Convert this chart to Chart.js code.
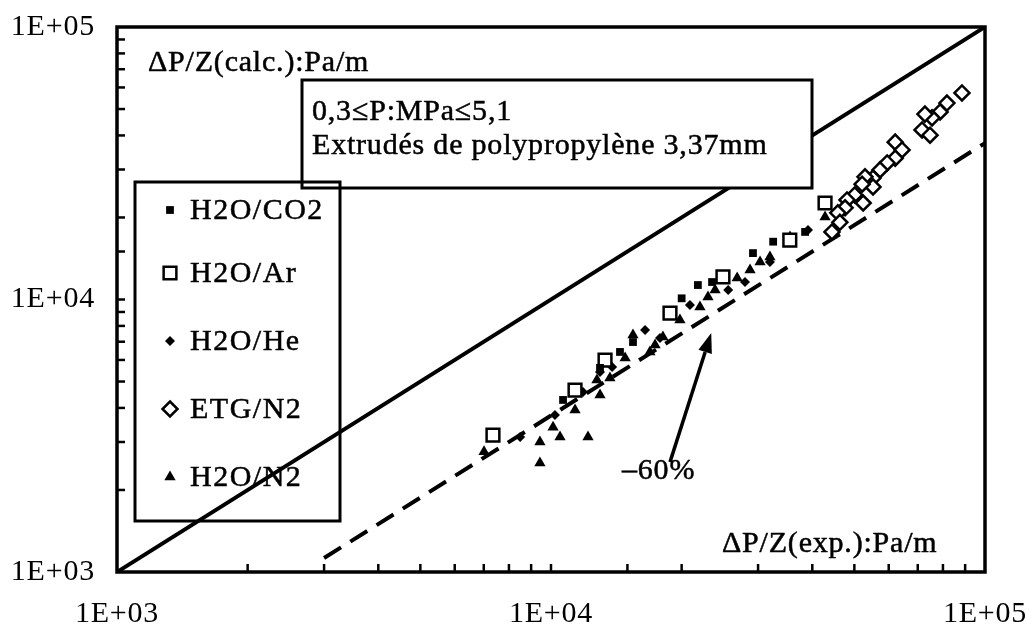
<!DOCTYPE html>
<html><head><meta charset="utf-8">
<script src="https://cdn.jsdelivr.net/npm/chart.js@4.4.1/dist/chart.umd.min.js"></script>
<style>html,body{margin:0;padding:0;background:#fff;}canvas{display:block;}</style>
</head><body><canvas id="c" width="1031" height="630"></canvas>
<script>
// ---- tick labels ----
const tickValues = [1e3, 1e4, 1e5];
const tickLabels = ['1E+03', '1E+04', '1E+05'];

// ---- series names ----
const seriesNames = ['H2O/CO2', 'H2O/Ar', 'H2O/He', 'ETG/N2', 'H2O/N2'];

// ---- series values [ΔP/Z exp, ΔP/Z calc] in Pa/m ----
const h2oCo2 = [[10660,4280],[12970,5610],[14420,6420],[15450,6980],[20000,10100],[21800,11300],[23500,11590],[29200,14800],[32500,16300],[38500,17700]];
const h2oAr = [[7350,3180],[11360,4650],[13320,5990],[18800,8920],[24900,12100],[35500,16500],[42800,22600]];
const h2oHe = [[8490,3130],[10210,3770],[11850,4580],[12970,5420],[13830,5650],[16470,7730],[17830,7220],[20900,9550],[25600,10840],[27990,11590],[31950,13740],[39100,17990]];
const etgN2 = [[88500,57300],[81700,52600],[78800,48800],[75500,46400],[72700,47900],[71600,41900],[74700,40100],[62100,37800],[64400,35400],[62100,33000],[59500,31700],[57300,29900],[55200,27900],[55200,25900],[52900,28200],[52100,26500],[50100,24200],[52400,22600],[48100,23200],[47600,21700],[45800,20800],[46300,19200],[44400,17700]];
const h2oN2 = [[7010,2760],[9430,2510],[9430,3000],[10110,3400],[10490,3130],[12170,3130],[11360,3930],[12760,5070],[12970,4460],[13670,5150],[14820,6100],[15450,7410],[16900,6420],[17370,6810],[18110,7280],[19820,8410],[22040,9380],[23000,10210],[23880,10840],[26850,11990],[28750,12830],[30320,13740],[31950,14320],[35540,16950],[42800,20090]];

// ---- reference lines ----
const idealLine = [[1e3,1e3],[1e5,1e5]];
const minus60Line = [[3000,1125],[1e5,37500]];
const arrowTail = [18800, 2530];
const arrowTip = [23400, 7540];

const FONT = '30px "Liberation Serif", "Times New Roman", serif';
const toXY = a => a.map(p => ({x: p[0], y: p[1]}));

const markers = [
  {style:'rect', r:5.5, fill:'#000', bw:0},
  {style:'rect', r:9, fill:'#fff', bw:2.5},
  {style:'rectRot', r:5, fill:'#000', bw:0},
  {style:'rectRot', r:7.5, fill:'#fff', bw:2.5},
  {style:'triangle', r:6.5, fill:'#000', bw:0}
];
const seriesData = [h2oCo2, h2oAr, h2oHe, etgN2, h2oN2];

const datasets = [
  {type:'line', data: toXY(idealLine), borderColor:'#000', borderWidth:4, pointRadius:0, order:10, showLine:true},
  {type:'line', data: toXY(minus60Line), borderColor:'#000', borderWidth:4, borderDash:[20,11], pointRadius:0, order:10, showLine:true}
];
seriesData.forEach((d,i) => {
  const m = markers[i];
  datasets.push({label: seriesNames[i], data: toXY(d), pointStyle: m.style, pointRadius: m.r,
    backgroundColor: m.fill, borderColor:'#000', borderWidth: m.bw, order: i===3?2:1});
});

function drawMarker(ctx, m, x, y) {
  ctx.save();
  ctx.beginPath();
  const r = m.r;
  if (m.style === 'rect') {
    const s = Math.SQRT1_2 * r;
    ctx.rect(x - s, y - s, 2*s, 2*s);
  } else if (m.style === 'rectRot') {
    ctx.moveTo(x, y - r); ctx.lineTo(x + r, y); ctx.lineTo(x, y + r); ctx.lineTo(x - r, y); ctx.closePath();
  } else {
    const w = r * Math.sqrt(3) / 2;
    ctx.moveTo(x, y - r); ctx.lineTo(x + w, y + r/2); ctx.lineTo(x - w, y + r/2); ctx.closePath();
  }
  ctx.fillStyle = m.fill; ctx.fill();
  if (m.bw) { ctx.lineWidth = m.bw; ctx.strokeStyle = '#000'; ctx.stroke(); }
  ctx.restore();
}

function txt(ctx, s, x, y) {
  ctx.fillText(s, x, y);
  ctx.strokeText(s, x, y);
}

const deco = {
  id: 'deco',
  beforeDraw(chart) {
    const ctx = chart.ctx;
    ctx.save(); ctx.fillStyle = '#fff'; ctx.fillRect(0,0,chart.width,chart.height); ctx.restore();
    ctx.letterSpacing = '0.8px';
  },
  afterDraw(chart) {
    const ctx = chart.ctx, a = chart.chartArea;
    const xs = chart.scales.x, ys = chart.scales.y;
    ctx.save();
    ctx.letterSpacing = '0.8px';
    ctx.strokeStyle = '#000'; ctx.fillStyle = '#000';
    // frame
    ctx.lineWidth = 3.5;
    ctx.strokeRect(a.left, a.top, a.right - a.left, a.bottom - a.top);
    // inward tick marks
    ctx.lineWidth = 2.5;
    xs.ticks.forEach(t => {
      const px = xs.getPixelForValue(t.value);
      if (px <= a.left + 2 || px >= a.right - 2) return;
      ctx.beginPath(); ctx.moveTo(px, a.bottom); ctx.lineTo(px, a.bottom - 8); ctx.stroke();
    });
    ys.ticks.forEach(t => {
      const py = ys.getPixelForValue(t.value);
      if (py <= a.top + 2 || py >= a.bottom - 2) return;
      ctx.beginPath(); ctx.moveTo(a.left, py); ctx.lineTo(a.left + 8, py); ctx.stroke();
    });
    // conditions box
    ctx.lineWidth = 3;
    ctx.fillStyle = '#fff';
    ctx.fillRect(302, 80, 510, 108);
    ctx.strokeRect(302, 80, 510, 108);
    ctx.fillStyle = '#000';
    ctx.font = FONT; ctx.textBaseline = 'alphabetic'; ctx.textAlign = 'left';
    ctx.lineWidth = 0.5;
    txt(ctx, '0,3\u2264P:MPa\u22645,1', 312, 120);
    txt(ctx, 'Extrud\u00e9s de polypropyl\u00e8ne 3,37mm', 312, 154);
    // axis titles
    txt(ctx, '\u0394P/Z(calc.):Pa/m', 148, 71);
    txt(ctx, '\u0394P/Z(exp.):Pa/m', 722, 552);
    // legend box (transparent)
    ctx.lineWidth = 3;
    ctx.strokeRect(135, 182, 205, 339);
    const rows = [210, 273, 341, 409, 477];
    ctx.textBaseline = 'middle';
    ctx.letterSpacing = '1.5px';
    seriesNames.forEach((n, i) => {
      drawMarker(ctx, markers[i], 170, rows[i]);
      ctx.fillStyle = '#000'; ctx.lineWidth = 0.5;
      txt(ctx, n, 190, rows[i] + 1);
    });
    ctx.letterSpacing = '0.8px';
    // arrow
    const tx = xs.getPixelForValue(arrowTail[0]), ty = ys.getPixelForValue(arrowTail[1]);
    const hx = xs.getPixelForValue(arrowTip[0]), hy = ys.getPixelForValue(arrowTip[1]);
    const ang = Math.atan2(hy - ty, hx - tx);
    const hl = 20, hw = 7;
    const bx = hx - hl * Math.cos(ang), by = hy - hl * Math.sin(ang);
    ctx.lineWidth = 3.5;
    ctx.beginPath(); ctx.moveTo(tx, ty); ctx.lineTo(bx, by); ctx.stroke();
    ctx.beginPath();
    ctx.moveTo(hx, hy);
    ctx.lineTo(bx + hw * Math.sin(ang), by - hw * Math.cos(ang));
    ctx.lineTo(bx - hw * Math.sin(ang), by + hw * Math.cos(ang));
    ctx.closePath(); ctx.fill();
    ctx.textBaseline = 'alphabetic';
    ctx.lineWidth = 0.5;
    txt(ctx, '\u201360%', 622, 479);
    ctx.restore();
  }
};

const labelFor = v => { const i = tickValues.findIndex(t => Math.abs(t - v) / t < 1e-6); return i >= 0 ? tickLabels[i] : ''; };

new Chart(document.getElementById('c'), {
  type: 'scatter',
  data: { datasets },
  options: {
    responsive: false, animation: false, devicePixelRatio: 1,
    layout: { padding: { left: 0, top: 27, right: 46, bottom: 0 } },
    plugins: { legend: { display: false }, tooltip: { enabled: false } },
    scales: {
      x: { type: 'logarithmic', min: 1e3, max: 1e5,
        grid: { display: false }, border: { display: false },
        ticks: { autoSkip: false, maxRotation: 0, color: '#000', font: { family: '"Liberation Serif", serif', size: 30 }, padding: 16,
          callback: v => labelFor(v) },
        afterFit: s => { s.height = 58; s.paddingLeft = 0; s.paddingRight = 0; } },
      y: { type: 'logarithmic', min: 1e3, max: 1e5,
        grid: { display: false }, border: { display: false },
        ticks: { autoSkip: false, color: '#000', font: { family: '"Liberation Serif", serif', size: 30 }, padding: 14,
          callback: v => labelFor(v) },
        afterFit: s => { s.width = 117; s.paddingTop = 0; s.paddingBottom = 0; } }
    }
  },
  plugins: [deco]
});
</script></body></html>
